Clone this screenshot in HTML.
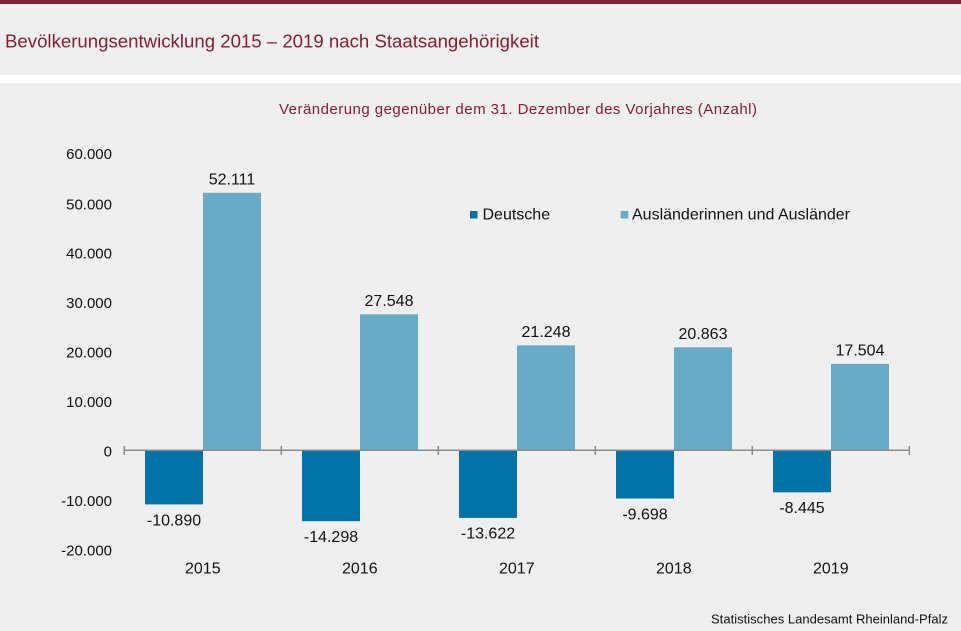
<!DOCTYPE html>
<html><head><meta charset="utf-8"><style>
html,body{margin:0;padding:0;background:#fff;}
svg{display:block;font-family:"Liberation Sans",Arial,sans-serif;}
</style></head><body>
<svg width="961" height="631" viewBox="0 0 961 631" xmlns="http://www.w3.org/2000/svg">
<rect x="0" y="0" width="961" height="631" fill="#ffffff"/>
<rect x="0" y="0" width="961" height="4" fill="#8a1c33"/>
<rect x="0" y="4" width="961" height="71" fill="#eeefee"/>
<rect x="0" y="83" width="961" height="548" fill="#eeefee"/>
<text x="5" y="47.3" font-size="18.3" fill="#8a1c33" textLength="534" lengthAdjust="spacingAndGlyphs">Bevölkerungsentwicklung 2015 – 2019 nach Staatsangehörigkeit</text>
<text x="279" y="114" font-size="15" fill="#8a1c33" textLength="478" lengthAdjust="spacing">Veränderung gegenüber dem 31. Dezember des Vorjahres (Anzahl)</text>

<g font-size="15" fill="#111" text-anchor="end">
<text x="112" y="158.8">60.000</text>
<text x="112" y="209.3">50.000</text>
<text x="112" y="258.7">40.000</text>
<text x="112" y="308.2">30.000</text>
<text x="112" y="357.6">20.000</text>
<text x="112" y="407.1">10.000</text>
<text x="112" y="456.5">0</text>
<text x="112" y="506">-10.000</text>
<text x="112" y="555.4">-20.000</text>
</g>

<!-- bars -->
<g fill="#0072a5">
<rect x="145" y="450.5" width="58" height="53.9"/>
<rect x="302" y="450.5" width="58" height="70.7"/>
<rect x="459" y="450.5" width="58" height="67.4"/>
<rect x="616" y="450.5" width="58" height="48"/>
<rect x="773" y="450.5" width="58" height="41.8"/>
</g>
<g fill="#67abc9">
<rect x="203" y="192.8" width="58" height="257.7"/>
<rect x="360" y="314.3" width="58" height="136.2"/>
<rect x="517" y="345.4" width="58" height="105.1"/>
<rect x="674" y="347.3" width="58" height="103.2"/>
<rect x="831" y="363.9" width="58" height="86.6"/>
</g>

<!-- axis -->
<g stroke="#8c8c8c" stroke-width="1.5" fill="none">
<line x1="124" y1="450.3" x2="909.5" y2="450.3"/>
<line x1="124.3" y1="446" x2="124.3" y2="455"/>
<line x1="281.3" y1="446" x2="281.3" y2="455"/>
<line x1="438.3" y1="446" x2="438.3" y2="455"/>
<line x1="595.3" y1="446" x2="595.3" y2="455"/>
<line x1="752.3" y1="446" x2="752.3" y2="455"/>
<line x1="909.3" y1="446" x2="909.3" y2="455"/>
</g>

<!-- value labels -->
<g font-size="16" fill="#111" text-anchor="middle">
<text x="232" y="184.3">52.111</text>
<text x="389" y="305.8">27.548</text>
<text x="546" y="336.9">21.248</text>
<text x="703" y="338.8">20.863</text>
<text x="860" y="355.4">17.504</text>
<text x="174" y="525.3">-10.890</text>
<text x="331" y="542">-14.298</text>
<text x="488" y="538.7">-13.622</text>
<text x="645" y="519.3">-9.698</text>
<text x="802" y="513.1">-8.445</text>
</g>

<!-- category labels -->
<g font-size="16" fill="#111" text-anchor="middle">
<text x="202.8" y="573.5">2015</text>
<text x="359.8" y="573.5">2016</text>
<text x="516.8" y="573.5">2017</text>
<text x="673.8" y="573.5">2018</text>
<text x="830.8" y="573.5">2019</text>
</g>

<!-- legend -->
<rect x="470" y="211" width="7.5" height="7.5" fill="#0072a5"/>
<text x="482.5" y="219.5" font-size="16" fill="#111">Deutsche</text>
<rect x="620.7" y="211" width="7.5" height="7.5" fill="#67abc9"/>
<text x="632" y="219.5" font-size="16" fill="#111" textLength="218" lengthAdjust="spacing">Ausländerinnen und Ausländer</text>

<text x="711" y="623.3" font-size="13" fill="#111" textLength="237" lengthAdjust="spacing">Statistisches Landesamt Rheinland-Pfalz</text>
</svg>
</body></html>
